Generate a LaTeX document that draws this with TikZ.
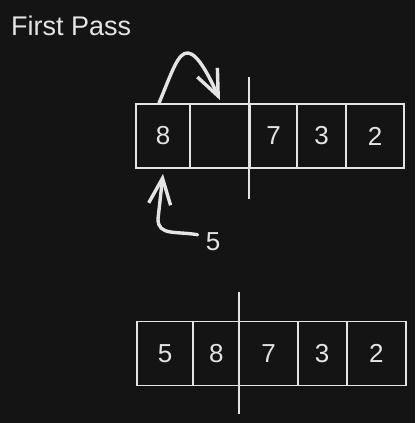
\documentclass[tikz,border=0pt]{standalone}
\usepackage{fontspec}
\setmainfont{Liberation Sans}
\usepackage{tikz}
\usetikzlibrary{arrows.meta}

\definecolor{bg}{HTML}{141414}
\definecolor{ink}{HTML}{E4E4E4}

\begin{document}
\begin{tikzpicture}[x=1pt,y=-1pt]
	\fill[bg] (0,0) rectangle (415,423);
	\useasboundingbox (0,0) rectangle (415,423);
	\node[anchor=base west, inner sep=0, text=ink, font=\fontsize{27}{27}\selectfont] (title) at (11,35.7) {First Pass};
	\begin{scope}[every node/.style = {rectangle, draw=ink, line width=1.8pt, inner sep=0,
			minimum height=64pt, text=ink, font=\fontsize{26}{26}\selectfont}]
		% before the pass
		\node[minimum width=54pt] (t1) at (163,136) {8};
		\node[minimum width=60pt] (t2) at (220,136) {};
		\node[minimum width=47pt] (t3) at (273.5,136) {7};
		\node[minimum width=49pt] (t4) at (321.5,136) {3};
		\node[minimum width=58pt] (t5) at (375,136) {2};
		% after the pass
		\node[minimum width=56.6pt] (b1) at (165,353.5) {5};
		\node[minimum width=46.2pt] (b2) at (216.4,353.5) {8};
		\node[minimum width=58.2pt] (b3) at (268.6,353.5) {7};
		\node[minimum width=49pt] (b4) at (322.2,353.5) {3};
		\node[minimum width=59.3pt] (b5) at (376.3,353.5) {2};
	\end{scope}
	\node[text=ink, inner sep=2pt, font=\fontsize{26}{26}\selectfont] (five) at (213,242) {5};
	\begin{scope}[draw=ink]
		\draw[line width=1.8pt] ([yshift=26pt]t3.north west) -- ([yshift=-30pt]t3.south west);
		\draw[line width=1.8pt] ([yshift=29pt]b3.north west) -- ([yshift=-28pt]b3.south west);
	\end{scope}
	\begin{scope}[>={Straight Barb[length=26pt,width=22pt]},
			every path/.style={draw=ink, line width=3.4pt, line cap=round, line join=round}]
		\path[->] ([xshift=-4pt]t1.north) .. controls (172,72) and (178,52) .. (188,53)
			.. controls (198,54) and (209,76) .. ([yshift=3pt]t2.north);
		\path[->] ([xshift=-6pt,yshift=-4pt]five.north west) .. controls (176,231) and (158,236) .. (158,219)
			-- ([yshift=-5pt]t1.south);
	\end{scope}
\end{tikzpicture}
\end{document}
